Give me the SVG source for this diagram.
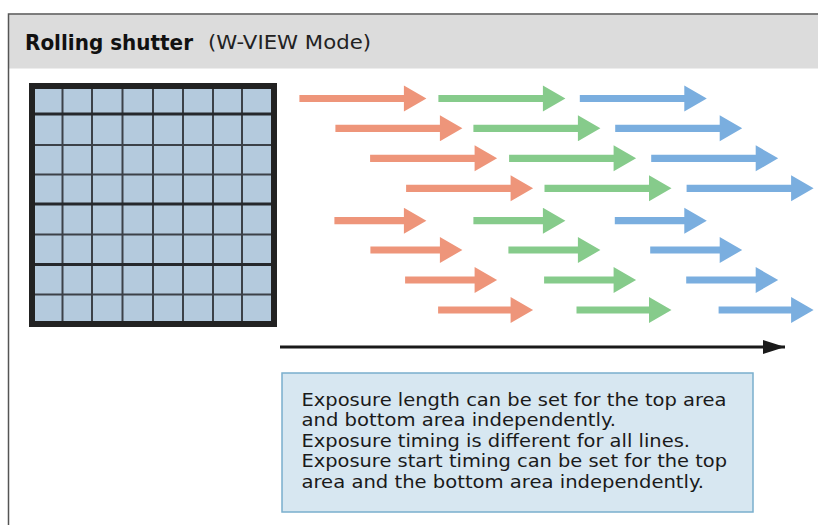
<svg xmlns="http://www.w3.org/2000/svg" xmlns:xlink="http://www.w3.org/1999/xlink" width="818" height="525" viewBox="0 0 818 525">
  <defs>
    <style>
      .frame { fill: none; stroke: #555; stroke-width: 1.5; }
      .title { font-family: "DejaVu Sans", Verdana, sans-serif; font-weight: bold; font-size: 21px; fill: #111; }
      .mode { font-family: "DejaVu Sans", Verdana, sans-serif; font-size: 19px; fill: #222; }
      .cell-line { stroke: #3c4148; stroke-width: 2; }
      .cell-line-b { stroke: #25282c; stroke-width: 3; }
      .o { fill: #ee957a; }
      .g { fill: #86cb8b; }
      .b { fill: #7aaedf; }
      .note { font-family: "DejaVu Sans", Verdana, sans-serif; font-size: 17.6px; fill: #1a1a1a; }
    </style>
    <!-- arrows drawn with tip at origin -->
    <polygon id="longArrow" points="-127,-3.6 -22.5,-3.6 -22.5,-13 0,0 -22.5,13 -22.5,3.6 -127,3.6"/>
    <polygon id="shortArrow" points="-92,-3.6 -22.5,-3.6 -22.5,-13 0,0 -22.5,13 -22.5,3.6 -92,3.6"/>
    <polygon id="shortArrowB" points="-95,-3.6 -22.5,-3.6 -22.5,-13 0,0 -22.5,13 -22.5,3.6 -95,3.6"/>
    <marker id="axisHead" markerWidth="22" markerHeight="14" refX="22" refY="7" orient="auto" markerUnits="userSpaceOnUse">
      <polygon points="0,0 22,7 0,14" fill="#1a1a1a"/>
    </marker>
  </defs>

  <rect width="818" height="525" fill="#ffffff"/>

  <g id="header">
    <rect x="9" y="14.5" width="809" height="54" fill="#dcdcdc"/>
    <path class="frame" d="M8.5,525 V14 H818"/>
    <text class="title" x="25" y="50" textLength="168" lengthAdjust="spacingAndGlyphs">Rolling shutter</text>
    <text class="mode" x="208" y="48.5" textLength="163" lengthAdjust="spacingAndGlyphs">(W-VIEW Mode)</text>
  </g>

  <g id="sensor-grid">
    <rect x="32" y="86" width="242" height="238" fill="#b4cadd"/>
    <g class="cell-line">
      <line x1="62.5" y1="88" x2="62.5" y2="322"/>
      <line x1="92" y1="88" x2="92" y2="322"/>
      <line x1="122.5" y1="88" x2="122.5" y2="322"/>
      <line x1="153" y1="88" x2="153" y2="322"/>
      <line x1="183" y1="88" x2="183" y2="322"/>
      <line x1="213" y1="88" x2="213" y2="322"/>
      <line x1="242" y1="88" x2="242" y2="322"/>
      <line x1="34" y1="145" x2="272" y2="145"/>
      <line x1="34" y1="174.5" x2="272" y2="174.5"/>
      <line x1="34" y1="234.5" x2="272" y2="234.5"/>
      <line x1="34" y1="294.5" x2="272" y2="294.5"/>
    </g>
    <g class="cell-line-b">
      <line x1="34" y1="114" x2="272" y2="114"/>
      <line x1="34" y1="204" x2="272" y2="204"/>
      <line x1="34" y1="264.5" x2="272" y2="264.5"/>
    </g>
    <rect x="32" y="86" width="242" height="238" fill="none" stroke="#222" stroke-width="6"/>
  </g>

  <g id="exposures">
    <g id="row1">
      <use xlink:href="#longArrow" class="o" x="426.4" y="98.5"/>
      <use xlink:href="#longArrow" class="g" x="565.4" y="98.5"/>
      <use xlink:href="#longArrow" class="b" x="706.8" y="98.5"/>
    </g>
    <g id="row2">
      <use xlink:href="#longArrow" class="o" x="462.4" y="128.3"/>
      <use xlink:href="#longArrow" class="g" x="600.4" y="128.3"/>
      <use xlink:href="#longArrow" class="b" x="742.2" y="128.3"/>
    </g>
    <g id="row3">
      <use xlink:href="#longArrow" class="o" x="497.1" y="158.3"/>
      <use xlink:href="#longArrow" class="g" x="636.1" y="158.3"/>
      <use xlink:href="#longArrow" class="b" x="778.2" y="158.3"/>
    </g>
    <g id="row4">
      <use xlink:href="#longArrow" class="o" x="533.1" y="188.3"/>
      <use xlink:href="#longArrow" class="g" x="671.5" y="188.3"/>
      <use xlink:href="#longArrow" class="b" x="813.6" y="188.3"/>
    </g>
    <g id="row5">
      <use xlink:href="#shortArrow" class="o" x="426.4" y="220.7"/>
      <use xlink:href="#shortArrow" class="g" x="565.4" y="220.7"/>
      <use xlink:href="#shortArrow" class="b" x="706.8" y="220.7"/>
    </g>
    <g id="row6">
      <use xlink:href="#shortArrow" class="o" x="462.4" y="250"/>
      <use xlink:href="#shortArrow" class="g" x="600.4" y="250"/>
      <use xlink:href="#shortArrow" class="b" x="742.2" y="250"/>
    </g>
    <g id="row7">
      <use xlink:href="#shortArrow" class="o" x="497.1" y="280"/>
      <use xlink:href="#shortArrow" class="g" x="636.1" y="280"/>
      <use xlink:href="#shortArrow" class="b" x="778.2" y="280"/>
    </g>
    <g id="row8">
      <use xlink:href="#shortArrowB" class="o" x="533.1" y="310"/>
      <use xlink:href="#shortArrowB" class="g" x="671.5" y="310"/>
      <use xlink:href="#shortArrowB" class="b" x="813.6" y="310"/>
    </g>
  </g>

  <g id="connectors">
    <line id="time-axis" x1="280" y1="347" x2="785" y2="347" stroke="#1a1a1a" stroke-width="3" marker-end="url(#axisHead)"/>
  </g>

  <g id="note">
    <rect x="282" y="373" width="471" height="139" fill="#d7e7f1" stroke="#7aafcd" stroke-width="1.5"/>
    <text class="note" x="301.5" y="405.5" textLength="425" lengthAdjust="spacingAndGlyphs">Exposure length can be set for the top area</text>
    <text class="note" x="301.5" y="426" textLength="314.5" lengthAdjust="spacingAndGlyphs">and bottom area independently.</text>
    <text class="note" x="301.5" y="446.5" textLength="388.5" lengthAdjust="spacingAndGlyphs">Exposure timing is different for all lines.</text>
    <text class="note" x="301.5" y="467" textLength="425.5" lengthAdjust="spacingAndGlyphs">Exposure start timing can be set for the top</text>
    <text class="note" x="301.5" y="487.5" textLength="402.5" lengthAdjust="spacingAndGlyphs">area and the bottom area independently.</text>
  </g>
</svg>
